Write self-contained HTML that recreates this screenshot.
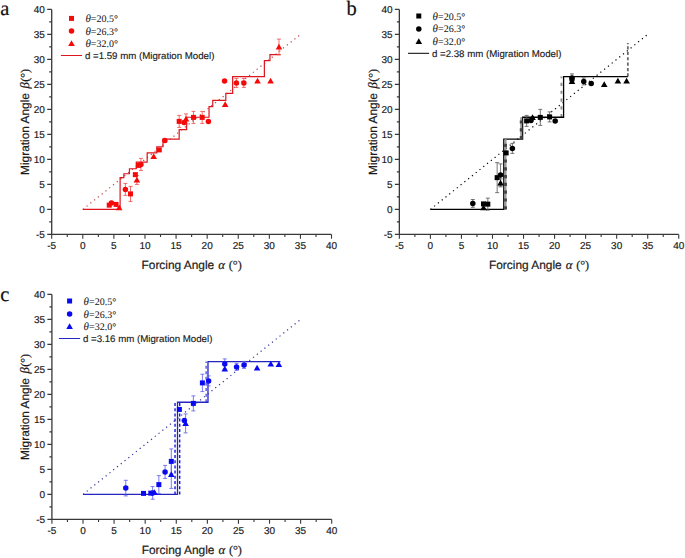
<!DOCTYPE html>
<html><head><meta charset="utf-8"><title>Migration angle vs forcing angle</title><style>
html,body{margin:0;padding:0;background:#fff;}
body{width:685px;height:558px;overflow:hidden;}
svg{display:block;text-rendering:geometricPrecision;}
.tk{font-family:"Liberation Sans", sans-serif;font-size:10px;fill:#1a1a1a;stroke:#1a1a1a;stroke-width:0.18px;}
.ttl{font-family:"Liberation Sans", sans-serif;font-size:11.9px;fill:#1a1a1a;stroke:#1a1a1a;stroke-width:0.2px;}
.gk{font-family:"Liberation Serif", serif;font-style:italic;font-size:12.8px;}
.sf{font-family:"Liberation Serif", serif;font-size:12.2px;}
.lt{font-family:"Liberation Serif", serif;font-size:20.5px;fill:#111;stroke:#111;stroke-width:0.2px;}
.lg{font-family:"Liberation Serif", serif;font-size:10px;fill:#1a1a1a;stroke:#1a1a1a;stroke-width:0.05px;}
.lgs{font-family:"Liberation Sans", sans-serif;font-size:9.7px;fill:#1a1a1a;stroke:#1a1a1a;stroke-width:0.15px;}
</style></head><body>
<svg width="685" height="558" viewBox="0 0 685 558">
<rect width="685" height="558" fill="#fff"/>
<path d="M51.71 9.4V234.4H331.52" fill="none" stroke="#383838" stroke-width="1.3"/>
<path d="M47.21 234.4H51.71M51.71 234.4V238.7M47.21 209.4H51.71M82.8 234.4V238.7M47.21 184.4H51.71M113.89 234.4V238.7M47.21 159.4H51.71M144.98 234.4V238.7M47.21 134.4H51.71M176.07 234.4V238.7M47.21 109.4H51.71M207.16 234.4V238.7M47.21 84.4H51.71M238.25 234.4V238.7M47.21 59.4H51.71M269.34 234.4V238.7M47.21 34.4H51.71M300.43 234.4V238.7M47.21 9.4H51.71M331.52 234.4V238.7M49.21 221.9H51.71M67.25 234.4V236.9M49.21 196.9H51.71M98.34 234.4V236.9M49.21 171.9H51.71M129.44 234.4V236.9M49.21 146.9H51.71M160.52 234.4V236.9M49.21 121.9H51.71M191.62 234.4V236.9M49.21 96.9H51.71M222.7 234.4V236.9M49.21 71.9H51.71M253.8 234.4V236.9M49.21 46.9H51.71M284.88 234.4V236.9M49.21 21.9H51.71M315.98 234.4V236.9" fill="none" stroke="#383838" stroke-width="1.1"/>
<text x="44.91" y="237.6" text-anchor="end" class="tk">-5</text>
<text x="51.71" y="249.4" text-anchor="middle" class="tk">-5</text>
<text x="44.91" y="212.6" text-anchor="end" class="tk">0</text>
<text x="82.8" y="249.4" text-anchor="middle" class="tk">0</text>
<text x="44.91" y="187.6" text-anchor="end" class="tk">5</text>
<text x="113.89" y="249.4" text-anchor="middle" class="tk">5</text>
<text x="44.91" y="162.6" text-anchor="end" class="tk">10</text>
<text x="144.98" y="249.4" text-anchor="middle" class="tk">10</text>
<text x="44.91" y="137.6" text-anchor="end" class="tk">15</text>
<text x="176.07" y="249.4" text-anchor="middle" class="tk">15</text>
<text x="44.91" y="112.6" text-anchor="end" class="tk">20</text>
<text x="207.16" y="249.4" text-anchor="middle" class="tk">20</text>
<text x="44.91" y="87.6" text-anchor="end" class="tk">25</text>
<text x="238.25" y="249.4" text-anchor="middle" class="tk">25</text>
<text x="44.91" y="62.6" text-anchor="end" class="tk">30</text>
<text x="269.34" y="249.4" text-anchor="middle" class="tk">30</text>
<text x="44.91" y="37.6" text-anchor="end" class="tk">35</text>
<text x="300.43" y="249.4" text-anchor="middle" class="tk">35</text>
<text x="44.91" y="12.6" text-anchor="end" class="tk">40</text>
<text x="331.52" y="249.4" text-anchor="middle" class="tk">40</text>
<text x="191.62" y="268.7" text-anchor="middle" class="ttl">Forcing Angle <tspan class="gk" dx="0.8">&#945;</tspan><tspan class="sf" dx="0.6"> (&#176;)</tspan></text>
<text transform="translate(29.01 121.9) rotate(-90)" x="0" y="0" text-anchor="middle" class="ttl">Migration Angle <tspan class="gk" dx="1.2" font-size="13.2px">&#946;</tspan><tspan class="sf" dx="0.3">(&#176;)</tspan></text>
<text x="0.3" y="14.8" class="lt">a</text>
<rect x="69" y="15.9" width="5" height="5" fill="#f50a0a"/>
<text x="85.4" y="21.9" class="lg"><tspan font-style="italic" font-size="11px">&#952;</tspan>=20.5&#176;</text>
<circle cx="71.5" cy="31.1" r="2.75" fill="#f50a0a"/>
<text x="85.4" y="34.6" class="lg"><tspan font-style="italic" font-size="11px">&#952;</tspan>=26.3&#176;</text>
<path d="M71.5 40.2L74.8 45.9L68.2 45.9Z" fill="#f50a0a"/>
<text x="85.4" y="46.9" class="lg"><tspan font-style="italic" font-size="11px">&#952;</tspan>=32.0&#176;</text>
<path d="M60.9 55.5H82.1" stroke="#dc161e" stroke-width="1"/>
<text x="84.9" y="59.1" class="lgs">d =1.59 mm (Migration Model)</text>
<path d="M82.8 209.4L300.43 34.4" stroke="#c04444" stroke-width="1.2" stroke-dasharray="1.2 3.65" fill="none"/>
<path d="M82.8 209.4 L120.11 209.4 L120.11 177.7 L123.84 177.7 L123.84 173.75 L129.44 173.75 L129.44 168.75 L136.27 168.75 L136.27 162.1 L147.16 162.1 L147.16 152.85 L156.79 152.85 L156.79 146.75 L163.01 146.75 L163.01 139.2 L179.18 139.2 L179.18 129.65 L186.64 129.65 L186.64 117.25 L209.03 117.25 L209.03 106.6 L212.76 106.6 L212.76 100.4 L225.81 100.4 L225.81 93.4 L232.65 93.4 L232.65 76.55 L264.37 76.55 L264.37 60.7 L269.96 60.7 L269.96 54.6 L280.53 54.6" fill="none" stroke="#dc161e" stroke-width="1.2" stroke-linejoin="miter"/>
<path d="M111.4 201.4V204.4M109.4 201.4H113.4M109.4 204.4H113.4M116.07 202.9V205.9M114.07 202.9H118.07M114.07 205.9H118.07M125.39 183.4V195.4M123.39 183.4H127.39M123.39 195.4H127.39M130.49 186.4V201.4M128.49 186.4H132.49M128.49 201.4H132.49M136.9 175.4V184.4M134.9 175.4H138.9M134.9 184.4H138.9M140.94 158.4V170.4M138.94 158.4H142.94M138.94 170.4H142.94M179.18 115.4V127.4M177.18 115.4H181.18M177.18 127.4H181.18M186.02 113.9V123.9M184.02 113.9H188.02M184.02 123.9H188.02M193.48 111.4V123.4M191.48 111.4H195.48M191.48 123.4H195.48M202.19 111.4V123.4M200.19 111.4H204.19M200.19 123.4H204.19M236.38 78.4V87.4M234.38 78.4H238.38M234.38 87.4H238.38M243.85 78.4V87.4M241.85 78.4H245.85M241.85 87.4H245.85M278.98 39.1V54.7M276.98 39.1H280.98M276.98 54.7H280.98" fill="none" stroke="#f04848" stroke-width="0.8"/>
<rect x="106.73" y="202.65" width="5" height="5" fill="#f50a0a"/><circle cx="111.4" cy="202.9" r="2.75" fill="#f50a0a"/><rect x="113.57" y="201.9" width="5" height="5" fill="#f50a0a"/><path d="M119.18 204.45L122.48 210.15L115.88 210.15Z" fill="#f50a0a"/><circle cx="125.39" cy="189.4" r="2.75" fill="#f50a0a"/><rect x="127.99" y="191.4" width="5" height="5" fill="#f50a0a"/><rect x="132.84" y="172.15" width="5" height="5" fill="#f50a0a"/><path d="M136.9 176.7L140.2 182.4L133.6 182.4Z" fill="#f50a0a"/><rect x="135.95" y="162.9" width="5" height="5" fill="#f50a0a"/><circle cx="140.94" cy="164.4" r="2.75" fill="#f50a0a"/><path d="M153.69 153.2L156.99 158.9L150.39 158.9Z" fill="#f50a0a"/><rect x="156.78" y="147.4" width="5" height="5" fill="#f50a0a"/><circle cx="164.88" cy="140.4" r="2.75" fill="#f50a0a"/><rect x="176.68" y="118.9" width="5" height="5" fill="#f50a0a"/><circle cx="184.15" cy="122.4" r="2.75" fill="#f50a0a"/><path d="M186.02 115.7L189.32 121.4L182.72 121.4Z" fill="#f50a0a"/><rect x="190.98" y="114.9" width="5" height="5" fill="#f50a0a"/><rect x="199.69" y="114.9" width="5" height="5" fill="#f50a0a"/><circle cx="208.4" cy="121.4" r="2.75" fill="#f50a0a"/><path d="M225.19 101.2L228.49 106.9L221.89 106.9Z" fill="#f50a0a"/><circle cx="224.57" cy="80.9" r="2.75" fill="#f50a0a"/><circle cx="236.38" cy="82.9" r="2.75" fill="#f50a0a"/><circle cx="243.85" cy="82.9" r="2.75" fill="#f50a0a"/><path d="M257.53 77.7L260.83 83.4L254.23 83.4Z" fill="#f50a0a"/><path d="M270.58 77.7L273.88 83.4L267.28 83.4Z" fill="#f50a0a"/><path d="M278.98 43.7L282.28 49.4L275.68 49.4Z" fill="#f50a0a"/>
<path d="M399.35 9.4V234.4H678.76" fill="none" stroke="#383838" stroke-width="1.3"/>
<path d="M394.85 234.4H399.35M399.35 234.4V238.7M394.85 209.4H399.35M430.4 234.4V238.7M394.85 184.4H399.35M461.44 234.4V238.7M394.85 159.4H399.35M492.49 234.4V238.7M394.85 134.4H399.35M523.53 234.4V238.7M394.85 109.4H399.35M554.58 234.4V238.7M394.85 84.4H399.35M585.62 234.4V238.7M394.85 59.4H399.35M616.67 234.4V238.7M394.85 34.4H399.35M647.71 234.4V238.7M394.85 9.4H399.35M678.76 234.4V238.7M396.85 221.9H399.35M414.88 234.4V236.9M396.85 196.9H399.35M445.92 234.4V236.9M396.85 171.9H399.35M476.97 234.4V236.9M396.85 146.9H399.35M508.01 234.4V236.9M396.85 121.9H399.35M539.06 234.4V236.9M396.85 96.9H399.35M570.1 234.4V236.9M396.85 71.9H399.35M601.15 234.4V236.9M396.85 46.9H399.35M632.19 234.4V236.9M396.85 21.9H399.35M663.24 234.4V236.9" fill="none" stroke="#383838" stroke-width="1.1"/>
<text x="392.55" y="237.6" text-anchor="end" class="tk">-5</text>
<text x="399.35" y="249.4" text-anchor="middle" class="tk">-5</text>
<text x="392.55" y="212.6" text-anchor="end" class="tk">0</text>
<text x="430.4" y="249.4" text-anchor="middle" class="tk">0</text>
<text x="392.55" y="187.6" text-anchor="end" class="tk">5</text>
<text x="461.44" y="249.4" text-anchor="middle" class="tk">5</text>
<text x="392.55" y="162.6" text-anchor="end" class="tk">10</text>
<text x="492.49" y="249.4" text-anchor="middle" class="tk">10</text>
<text x="392.55" y="137.6" text-anchor="end" class="tk">15</text>
<text x="523.53" y="249.4" text-anchor="middle" class="tk">15</text>
<text x="392.55" y="112.6" text-anchor="end" class="tk">20</text>
<text x="554.58" y="249.4" text-anchor="middle" class="tk">20</text>
<text x="392.55" y="87.6" text-anchor="end" class="tk">25</text>
<text x="585.62" y="249.4" text-anchor="middle" class="tk">25</text>
<text x="392.55" y="62.6" text-anchor="end" class="tk">30</text>
<text x="616.67" y="249.4" text-anchor="middle" class="tk">30</text>
<text x="392.55" y="37.6" text-anchor="end" class="tk">35</text>
<text x="647.71" y="249.4" text-anchor="middle" class="tk">35</text>
<text x="392.55" y="12.6" text-anchor="end" class="tk">40</text>
<text x="678.76" y="249.4" text-anchor="middle" class="tk">40</text>
<text x="539.06" y="268.7" text-anchor="middle" class="ttl">Forcing Angle <tspan class="gk" dx="0.8">&#945;</tspan><tspan class="sf" dx="0.6"> (&#176;)</tspan></text>
<text transform="translate(376.65 121.9) rotate(-90)" x="0" y="0" text-anchor="middle" class="ttl">Migration Angle <tspan class="gk" dx="1.2" font-size="13.2px">&#946;</tspan><tspan class="sf" dx="0.3">(&#176;)</tspan></text>
<text x="346.6" y="15.2" class="lt">b</text>
<rect x="416.3" y="13.5" width="5" height="5" fill="#000"/>
<text x="432.6" y="19.5" class="lg"><tspan font-style="italic" font-size="11px">&#952;</tspan>=20.5&#176;</text>
<circle cx="418.8" cy="28.9" r="2.75" fill="#000"/>
<text x="432.6" y="32.4" class="lg"><tspan font-style="italic" font-size="11px">&#952;</tspan>=26.3&#176;</text>
<path d="M418.8 38.3L422.1 44L415.5 44Z" fill="#000"/>
<text x="432.6" y="45" class="lg"><tspan font-style="italic" font-size="11px">&#952;</tspan>=32.0&#176;</text>
<path d="M408 53.3H429.1" stroke="#000" stroke-width="1"/>
<text x="431.9" y="56.9" class="lgs">d =2.38 mm (Migration Model)</text>
<path d="M430.4 209.4L647.71 34.4" stroke="#000" stroke-width="1.2" stroke-dasharray="1.2 3.65" fill="none"/>
<path d="M561.41 117.25V76.55" stroke="#8a8a8a" stroke-width="1.8" stroke-dasharray="3.2 4.6" fill="none"/>
<path d="M627.85 76.55V42.9" stroke="#6a6a6a" stroke-width="1.8" stroke-dasharray="3.2 2.2" fill="none"/>
<path d="M430.4 209.4 L503.79 209.4 L503.79 139.2 L522.6 139.2 L522.6 117.25 L563.58 117.25 L563.58 76.55 L627.85 76.55" fill="none" stroke="#000" stroke-width="1.3" stroke-linejoin="miter"/>
<path d="M505.53 209.4V139.2" stroke="#9a9a9a" stroke-width="2.0" fill="none"/>
<path d="M505.53 209.4V139.2" stroke="#444" stroke-width="2.8" stroke-dasharray="3.2 4.6" fill="none"/>
<path d="M521.18 139.2V117.25" stroke="#9a9a9a" stroke-width="2.0" fill="none"/>
<path d="M521.18 139.2V117.25" stroke="#444" stroke-width="2.8" stroke-dasharray="3.2 4.6" fill="none"/>
<path d="M472.81 199.5V207.3M470.81 199.5H474.81M470.81 207.3H474.81M487.83 198.15V210.15M485.83 198.15H489.83M485.83 210.15H489.83M497.15 162.65V192.65M495.15 162.65H499.15M495.15 192.65H499.15M500.56 163.9V185.9M498.56 163.9H502.56M498.56 185.9H502.56M500.56 178.9V186.9M498.56 178.9H502.56M498.56 186.9H502.56M512.36 143.4V153.4M510.36 143.4H514.36M510.36 153.4H514.36M526.64 115.4V126.4M524.64 115.4H528.64M524.64 126.4H528.64M540.3 109.4V125.4M538.3 109.4H542.3M538.3 125.4H542.3M549.61 111.9V121.9M547.61 111.9H551.61M547.61 121.9H551.61M571.97 73.9V81.9M569.97 73.9H573.97M569.97 81.9H573.97M583.76 77.9V84.9M581.76 77.9H585.76M581.76 84.9H585.76" fill="none" stroke="#555" stroke-width="0.8"/>
<circle cx="472.81" cy="203.4" r="2.75" fill="#000"/><rect x="480.99" y="201.4" width="5" height="5" fill="#000"/><path d="M483.49 204.45L486.79 210.15L480.19 210.15Z" fill="#000"/><rect x="485.33" y="201.65" width="5" height="5" fill="#000"/><rect x="494.65" y="175.15" width="5" height="5" fill="#000"/><circle cx="500.56" cy="174.9" r="2.75" fill="#000"/><path d="M500.56 179.7L503.86 185.4L497.26 185.4Z" fill="#000"/><rect x="503.65" y="150.4" width="5" height="5" fill="#000"/><circle cx="512.36" cy="148.4" r="2.75" fill="#000"/><rect x="524.14" y="118.4" width="5" height="5" fill="#000"/><circle cx="530.99" cy="120.4" r="2.75" fill="#000"/><path d="M532.54 114.2L535.84 119.9L529.24 119.9Z" fill="#000"/><rect x="537.8" y="114.9" width="5" height="5" fill="#000"/><rect x="547.11" y="114.4" width="5" height="5" fill="#000"/><circle cx="555.2" cy="120.9" r="2.75" fill="#000"/><circle cx="571.97" cy="77.9" r="2.75" fill="#000"/><rect x="569.47" y="76.4" width="5" height="5" fill="#000"/><path d="M571.97 78.2L575.27 83.9L568.67 83.9Z" fill="#000"/><circle cx="583.76" cy="81.4" r="2.75" fill="#000"/><circle cx="591.21" cy="83.4" r="2.75" fill="#000"/><path d="M604.25 81.2L607.55 86.9L600.95 86.9Z" fill="#000"/><path d="M617.91 77.7L621.21 83.4L614.61 83.4Z" fill="#000"/><path d="M626.6 77.7L629.9 83.4L623.3 83.4Z" fill="#000"/>
<path d="M51.91 294.4V519.4H331.72" fill="none" stroke="#383838" stroke-width="1.3"/>
<path d="M47.41 519.4H51.91M51.91 519.4V523.7M47.41 494.4H51.91M83 519.4V523.7M47.41 469.4H51.91M114.09 519.4V523.7M47.41 444.4H51.91M145.18 519.4V523.7M47.41 419.4H51.91M176.27 519.4V523.7M47.41 394.4H51.91M207.36 519.4V523.7M47.41 369.4H51.91M238.45 519.4V523.7M47.41 344.4H51.91M269.54 519.4V523.7M47.41 319.4H51.91M300.63 519.4V523.7M47.41 294.4H51.91M331.72 519.4V523.7M49.41 506.9H51.91M67.45 519.4V521.9M49.41 481.9H51.91M98.55 519.4V521.9M49.41 456.9H51.91M129.63 519.4V521.9M49.41 431.9H51.91M160.72 519.4V521.9M49.41 406.9H51.91M191.81 519.4V521.9M49.41 381.9H51.91M222.91 519.4V521.9M49.41 356.9H51.91M254 519.4V521.9M49.41 331.9H51.91M285.09 519.4V521.9M49.41 306.9H51.91M316.18 519.4V521.9" fill="none" stroke="#383838" stroke-width="1.1"/>
<text x="45.11" y="522.6" text-anchor="end" class="tk">-5</text>
<text x="51.91" y="534.4" text-anchor="middle" class="tk">-5</text>
<text x="45.11" y="497.6" text-anchor="end" class="tk">0</text>
<text x="83" y="534.4" text-anchor="middle" class="tk">0</text>
<text x="45.11" y="472.6" text-anchor="end" class="tk">5</text>
<text x="114.09" y="534.4" text-anchor="middle" class="tk">5</text>
<text x="45.11" y="447.6" text-anchor="end" class="tk">10</text>
<text x="145.18" y="534.4" text-anchor="middle" class="tk">10</text>
<text x="45.11" y="422.6" text-anchor="end" class="tk">15</text>
<text x="176.27" y="534.4" text-anchor="middle" class="tk">15</text>
<text x="45.11" y="397.6" text-anchor="end" class="tk">20</text>
<text x="207.36" y="534.4" text-anchor="middle" class="tk">20</text>
<text x="45.11" y="372.6" text-anchor="end" class="tk">25</text>
<text x="238.45" y="534.4" text-anchor="middle" class="tk">25</text>
<text x="45.11" y="347.6" text-anchor="end" class="tk">30</text>
<text x="269.54" y="534.4" text-anchor="middle" class="tk">30</text>
<text x="45.11" y="322.6" text-anchor="end" class="tk">35</text>
<text x="300.63" y="534.4" text-anchor="middle" class="tk">35</text>
<text x="45.11" y="297.6" text-anchor="end" class="tk">40</text>
<text x="331.72" y="534.4" text-anchor="middle" class="tk">40</text>
<text x="191.81" y="553.7" text-anchor="middle" class="ttl">Forcing Angle <tspan class="gk" dx="0.8">&#945;</tspan><tspan class="sf" dx="0.6"> (&#176;)</tspan></text>
<text transform="translate(29.21 406.9) rotate(-90)" x="0" y="0" text-anchor="middle" class="ttl">Migration Angle <tspan class="gk" dx="1.2" font-size="13.2px">&#946;</tspan><tspan class="sf" dx="0.3">(&#176;)</tspan></text>
<text x="0.2" y="300.9" class="lt">c</text>
<rect x="67.1" y="298.5" width="5" height="5" fill="#0a0af0"/>
<text x="83.6" y="304.5" class="lg"><tspan font-style="italic" font-size="11px">&#952;</tspan>=20.5&#176;</text>
<circle cx="69.6" cy="314.1" r="2.75" fill="#0a0af0"/>
<text x="83.6" y="317.6" class="lg"><tspan font-style="italic" font-size="11px">&#952;</tspan>=26.3&#176;</text>
<path d="M69.6 323.3L72.9 329L66.3 329Z" fill="#0a0af0"/>
<text x="83.6" y="330" class="lg"><tspan font-style="italic" font-size="11px">&#952;</tspan>=32.0&#176;</text>
<path d="M58.9 338.5H80.1" stroke="#2424c0" stroke-width="1"/>
<text x="82.9" y="342.1" class="lgs">d =3.16 mm (Migration Model)</text>
<path d="M83 494.4L300.63 319.4" stroke="#30309a" stroke-width="1.2" stroke-dasharray="1.2 3.65" fill="none"/>
<path d="M175.03 494.4V402.25" stroke="#1818d8" stroke-width="1.4" stroke-dasharray="3 2.2" fill="none"/>
<path d="M179.69 494.4V402.25" stroke="#1818d8" stroke-width="1.4" stroke-dasharray="3 2.2" fill="none"/>
<path d="M206.12 402.25V361.55" stroke="#4a4ae0" stroke-width="1.3" stroke-dasharray="3 2.6" fill="none"/>
<path d="M83 494.4 L177.51 494.4 L177.51 402.25 L207.98 402.25 L207.98 361.55 L280.42 361.55" fill="none" stroke="#2424c0" stroke-width="1.3" stroke-linejoin="miter"/>
<path d="M125.78 480.3V495.9M123.78 480.3H127.78M123.78 495.9H127.78M152.64 486.6V499.2M150.64 486.6H154.64M150.64 499.2H154.64M158.86 475.6V493.6M156.86 475.6H160.86M156.86 493.6H160.86M165.08 465.4V478.4M163.08 465.4H167.08M163.08 478.4H167.08M171.3 448.9V473.9M169.3 448.9H173.3M169.3 473.9H173.3M171.3 460.4V488.4M169.3 460.4H173.3M169.3 488.4H173.3M185.6 413.9V432.9M183.6 413.9H187.6M183.6 432.9H187.6M193.37 395.9V410.9M191.37 395.9H195.37M191.37 410.9H195.37M202.39 374.2V391.6M200.39 374.2H204.39M200.39 391.6H204.39M208.6 375.9V385.9M206.6 375.9H210.6M206.6 385.9H210.6M224.77 358.9V368.9M222.77 358.9H226.77M222.77 368.9H226.77M236.58 363.4V370.4M234.58 363.4H238.58M234.58 370.4H238.58M244.05 361.4V368.4M242.05 361.4H246.05M242.05 368.4H246.05" fill="none" stroke="#5a5af0" stroke-width="0.8"/>
<circle cx="125.78" cy="488.1" r="2.75" fill="#0a0af0"/><rect x="141" y="490.9" width="5" height="5" fill="#0a0af0"/><rect x="148.28" y="490.65" width="5" height="5" fill="#0a0af0"/><circle cx="152.64" cy="492.9" r="2.75" fill="#0a0af0"/><path d="M154.51 489.2L157.81 494.9L151.21 494.9Z" fill="#0a0af0"/><rect x="156.36" y="482.1" width="5" height="5" fill="#0a0af0"/><circle cx="165.08" cy="471.9" r="2.75" fill="#0a0af0"/><rect x="168.8" y="458.9" width="5" height="5" fill="#0a0af0"/><path d="M171.3 471.2L174.6 476.9L168 476.9Z" fill="#0a0af0"/><rect x="176.88" y="406.9" width="5" height="5" fill="#0a0af0"/><circle cx="184.35" cy="420.4" r="2.75" fill="#0a0af0"/><path d="M185.6 420.2L188.9 425.9L182.3 425.9Z" fill="#0a0af0"/><rect x="190.87" y="400.9" width="5" height="5" fill="#0a0af0"/><rect x="199.89" y="380.4" width="5" height="5" fill="#0a0af0"/><circle cx="208.6" cy="380.9" r="2.75" fill="#0a0af0"/><circle cx="224.77" cy="363.9" r="2.75" fill="#0a0af0"/><path d="M224.77 365.7L228.07 371.4L221.47 371.4Z" fill="#0a0af0"/><circle cx="236.58" cy="366.9" r="2.75" fill="#0a0af0"/><circle cx="244.05" cy="364.9" r="2.75" fill="#0a0af0"/><path d="M257.1 364.7L260.4 370.4L253.8 370.4Z" fill="#0a0af0"/><path d="M270.78 360.7L274.08 366.4L267.48 366.4Z" fill="#0a0af0"/><path d="M278.87 361.2L282.17 366.9L275.57 366.9Z" fill="#0a0af0"/>
</svg></body></html>
